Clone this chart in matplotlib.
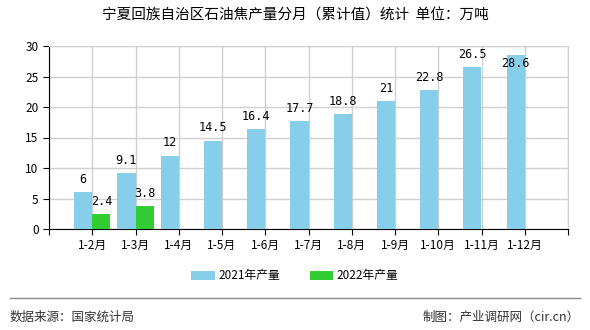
import numpy as np
import matplotlib
matplotlib.use('Agg')
import matplotlib.pyplot as plt

plt.rcParams['font.family'] = ['Noto Sans CJK SC', 'DejaVu Sans']

months = ['1-2月', '1-3月', '1-4月', '1-5月', '1-6月', '1-7月',
          '1-8月', '1-9月', '1-10月', '1-11月', '1-12月']
vals_2021 = [6, 9.1, 12, 14.5, 16.4, 17.7, 18.8, 21, 22.8, 26.5, 28.6]
vals_2022 = [2.4, 3.8]

c21 = '#87CEEB'
c22 = '#32CD32'

fig = plt.figure(figsize=(5.9, 3.3), dpi=100)
ax = fig.add_axes([49/590, 1 - 229/330, (568-49)/590, (229-46)/330])

x = np.arange(1, len(months) + 1)
w = 0.42
ax.bar(x - w/2, vals_2021, w, color=c21, label='2021年产量', zorder=3)
x22 = x[:len(vals_2022)]
ax.bar(x22 + w/2, vals_2022, w, color=c22, label='2022年产量', zorder=3)

def lab(xs, vs):
    for xi, v in zip(xs, vs):
        # labels that would run past the top go just inside the bar
        y = v + 2.1 if v + 2.1 < 29.5 else v - 1.4
        ax.text(xi, y, f'{v:g}', ha='center', va='center', fontsize=8.5,
                family='DejaVu Sans Mono', zorder=4)

lab(x - w/2, vals_2021)
lab(x22 + w/2, vals_2022)

ax.set_xlim(0, 12)
ax.set_ylim(0, 30)
ax.set_xticks(np.arange(0, 13))
ax.set_xticklabels([''] + months + [''], fontsize=8.5)
ax.set_yticks(np.arange(0, 31, 5))
ax.tick_params(axis='y', labelsize=8.5, length=4)
ax.tick_params(axis='x', length=4, pad=3)
ax.grid(color='#d0d0d0', linewidth=1, zorder=0)
for s in ['top', 'right']:
    ax.spines[s].set_color('#d0d0d0')
for s in ['left', 'bottom']:
    ax.spines[s].set_color('black')

fig.text(0.5, 1 - 16/330, '宁夏回族自治区石油焦产量分月（累计值）统计  单位：万吨',
         ha='center', va='center', fontsize=10.5)

fig.legend(loc='center', bbox_to_anchor=(0.5, 1 - 276/330), ncol=2,
           frameon=False, fontsize=8.5, handlelength=2.0, handleheight=0.9,
           columnspacing=2.5, handletextpad=0.3)

fig.add_artist(plt.Line2D([10/590, 580/590], [1 - 298/330] * 2,
                          color='#888888', linewidth=1))
fig.text(10/590, 1 - 317/330, '数据来源：国家统计局', ha='left', va='center',
         fontsize=9, color='#333333')
fig.text(580/590, 1 - 317/330, '制图：产业调研网（cir.cn）', ha='right',
         va='center', fontsize=9, color='#333333')

fig.savefig('out.png', dpi=100)
